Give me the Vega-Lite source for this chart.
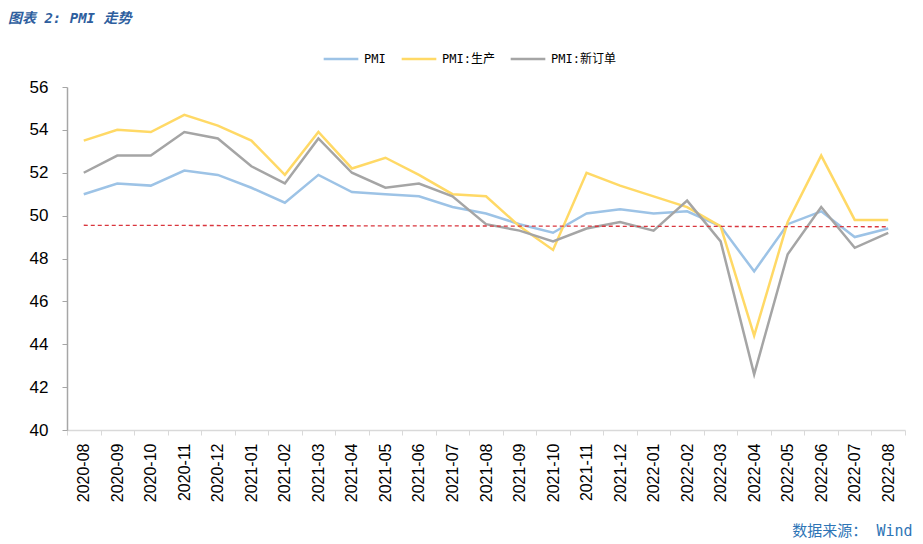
{
  "$schema": "https://vega.github.io/schema/vega-lite/v6.json",
  "autosize": "none",
  "width": 838,
  "height": 343,
  "padding": {"left": 67, "top": 87, "right": 18, "bottom": 114},
  "background": "white",
  "config": {
    "view": {"stroke": null},
    "font": "Liberation Sans"
  },
  "title": {
    "text": "图表 2: PMI 走势",
    "anchor": "start",
    "frame": "group",
    "dx": -59,
    "offset": 14,
    "font": "DejaVu Sans Mono, Noto Sans CJK SC",
    "fontSize": 14,
    "fontWeight": "bold",
    "fontStyle": "italic",
    "color": "#2E5E9E"
  },
  "datasets": {
    "pmi": [
      {"month": "2020-08", "series": "PMI", "value": 51.0},
      {"month": "2020-09", "series": "PMI", "value": 51.5},
      {"month": "2020-10", "series": "PMI", "value": 51.4},
      {"month": "2020-11", "series": "PMI", "value": 52.1},
      {"month": "2020-12", "series": "PMI", "value": 51.9},
      {"month": "2021-01", "series": "PMI", "value": 51.3},
      {"month": "2021-02", "series": "PMI", "value": 50.6},
      {"month": "2021-03", "series": "PMI", "value": 51.9},
      {"month": "2021-04", "series": "PMI", "value": 51.1},
      {"month": "2021-05", "series": "PMI", "value": 51.0},
      {"month": "2021-06", "series": "PMI", "value": 50.9},
      {"month": "2021-07", "series": "PMI", "value": 50.4},
      {"month": "2021-08", "series": "PMI", "value": 50.1},
      {"month": "2021-09", "series": "PMI", "value": 49.6},
      {"month": "2021-10", "series": "PMI", "value": 49.2},
      {"month": "2021-11", "series": "PMI", "value": 50.1},
      {"month": "2021-12", "series": "PMI", "value": 50.3},
      {"month": "2022-01", "series": "PMI", "value": 50.1},
      {"month": "2022-02", "series": "PMI", "value": 50.2},
      {"month": "2022-03", "series": "PMI", "value": 49.5},
      {"month": "2022-04", "series": "PMI", "value": 47.4},
      {"month": "2022-05", "series": "PMI", "value": 49.6},
      {"month": "2022-06", "series": "PMI", "value": 50.2},
      {"month": "2022-07", "series": "PMI", "value": 49.0},
      {"month": "2022-08", "series": "PMI", "value": 49.4},
      {"month": "2020-08", "series": "PMI:生产", "value": 53.5},
      {"month": "2020-09", "series": "PMI:生产", "value": 54.0},
      {"month": "2020-10", "series": "PMI:生产", "value": 53.9},
      {"month": "2020-11", "series": "PMI:生产", "value": 54.7},
      {"month": "2020-12", "series": "PMI:生产", "value": 54.2},
      {"month": "2021-01", "series": "PMI:生产", "value": 53.5},
      {"month": "2021-02", "series": "PMI:生产", "value": 51.9},
      {"month": "2021-03", "series": "PMI:生产", "value": 53.9},
      {"month": "2021-04", "series": "PMI:生产", "value": 52.2},
      {"month": "2021-05", "series": "PMI:生产", "value": 52.7},
      {"month": "2021-06", "series": "PMI:生产", "value": 51.9},
      {"month": "2021-07", "series": "PMI:生产", "value": 51.0},
      {"month": "2021-08", "series": "PMI:生产", "value": 50.9},
      {"month": "2021-09", "series": "PMI:生产", "value": 49.5},
      {"month": "2021-10", "series": "PMI:生产", "value": 48.4},
      {"month": "2021-11", "series": "PMI:生产", "value": 52.0},
      {"month": "2021-12", "series": "PMI:生产", "value": 51.4},
      {"month": "2022-01", "series": "PMI:生产", "value": 50.9},
      {"month": "2022-02", "series": "PMI:生产", "value": 50.4},
      {"month": "2022-03", "series": "PMI:生产", "value": 49.5},
      {"month": "2022-04", "series": "PMI:生产", "value": 44.4},
      {"month": "2022-05", "series": "PMI:生产", "value": 49.7},
      {"month": "2022-06", "series": "PMI:生产", "value": 52.8},
      {"month": "2022-07", "series": "PMI:生产", "value": 49.8},
      {"month": "2022-08", "series": "PMI:生产", "value": 49.8},
      {"month": "2020-08", "series": "PMI:新订单", "value": 52.0},
      {"month": "2020-09", "series": "PMI:新订单", "value": 52.8},
      {"month": "2020-10", "series": "PMI:新订单", "value": 52.8},
      {"month": "2020-11", "series": "PMI:新订单", "value": 53.9},
      {"month": "2020-12", "series": "PMI:新订单", "value": 53.6},
      {"month": "2021-01", "series": "PMI:新订单", "value": 52.3},
      {"month": "2021-02", "series": "PMI:新订单", "value": 51.5},
      {"month": "2021-03", "series": "PMI:新订单", "value": 53.6},
      {"month": "2021-04", "series": "PMI:新订单", "value": 52.0},
      {"month": "2021-05", "series": "PMI:新订单", "value": 51.3},
      {"month": "2021-06", "series": "PMI:新订单", "value": 51.5},
      {"month": "2021-07", "series": "PMI:新订单", "value": 50.9},
      {"month": "2021-08", "series": "PMI:新订单", "value": 49.6},
      {"month": "2021-09", "series": "PMI:新订单", "value": 49.3},
      {"month": "2021-10", "series": "PMI:新订单", "value": 48.8},
      {"month": "2021-11", "series": "PMI:新订单", "value": 49.4},
      {"month": "2021-12", "series": "PMI:新订单", "value": 49.7},
      {"month": "2022-01", "series": "PMI:新订单", "value": 49.3},
      {"month": "2022-02", "series": "PMI:新订单", "value": 50.7},
      {"month": "2022-03", "series": "PMI:新订单", "value": 48.8},
      {"month": "2022-04", "series": "PMI:新订单", "value": 42.6},
      {"month": "2022-05", "series": "PMI:新订单", "value": 48.2},
      {"month": "2022-06", "series": "PMI:新订单", "value": 50.4},
      {"month": "2022-07", "series": "PMI:新订单", "value": 48.5},
      {"month": "2022-08", "series": "PMI:新订单", "value": 49.2}
    ],
    "ref": [
      {"month": "2020-08", "value": 49.55},
      {"month": "2022-08", "value": 49.48}
    ]
  },
  "layer": [
    {
      "data": {"name": "pmi"},
      "mark": {"type": "line", "strokeWidth": 2.5, "clip": false},
      "encoding": {
        "x": {
          "field": "month",
          "type": "ordinal",
          "bandPosition": 0.5,
          "scale": {"type": "band", "paddingInner": 0, "paddingOuter": 0},
          "axis": {
            "title": "数据来源： Wind",
            "titleFont": "DejaVu Sans Mono, Noto Sans CJK SC",
            "titleFontSize": 15,
            "titleFontWeight": "normal",
            "titleColor": "#2E75B6",
            "titleAlign": "right",
            "titleAnchor": "end",
            "titleBaseline": "middle",
            "titleX": 845,
            "titleY": 100,
            "labelAngle": -90,
            "labelAlign": "right",
            "labelBaseline": "middle",
            "labelFontSize": 16,
            "labelColor": "#000000",
            "labelPadding": 8,
            "tickBand": "extent",
            "tickSize": 5,
            "tickColor": "#D9D9D9",
            "domainColor": "#D9D9D9",
            "domainWidth": 1.5,
            "grid": false
          }
        },
        "y": {
          "field": "value",
          "type": "quantitative",
          "scale": {"domain": [40, 56], "nice": false, "zero": false},
          "axis": {
            "title": null,
            "values": [40, 42, 44, 46, 48, 50, 52, 54, 56],
            "labelFontSize": 17,
            "labelColor": "#000000",
            "labelPadding": 14,
            "tickSize": 5,
            "tickColor": "#A6A6A6",
            "domainColor": "#A6A6A6",
            "domainWidth": 1.5,
            "grid": false
          }
        },
        "color": {
          "field": "series",
          "type": "nominal",
          "scale": {
            "domain": ["PMI", "PMI:生产", "PMI:新订单"],
            "range": ["#9DC3E6", "#FFD966", "#A5A5A5"]
          },
          "legend": {
            "title": null,
            "orient": "none",
            "direction": "horizontal",
            "legendX": 255,
            "legendY": -47,
            "symbolType": "stroke",
            "symbolSize": 1200,
            "symbolStrokeWidth": 2.5,
            "labelFont": "DejaVu Sans Mono, Noto Sans CJK SC",
            "labelFontSize": 12,
            "labelColor": "#000000",
            "labelOffset": 4,
            "columnPadding": 10
          }
        }
      }
    },
    {
      "data": {"name": "ref"},
      "mark": {"type": "line", "color": "#D9363E", "strokeWidth": 1.3, "strokeDash": [4, 3]},
      "encoding": {
        "x": {"field": "month", "type": "ordinal", "bandPosition": 0.5},
        "y": {"field": "value", "type": "quantitative"}
      }
    }
  ]
}
